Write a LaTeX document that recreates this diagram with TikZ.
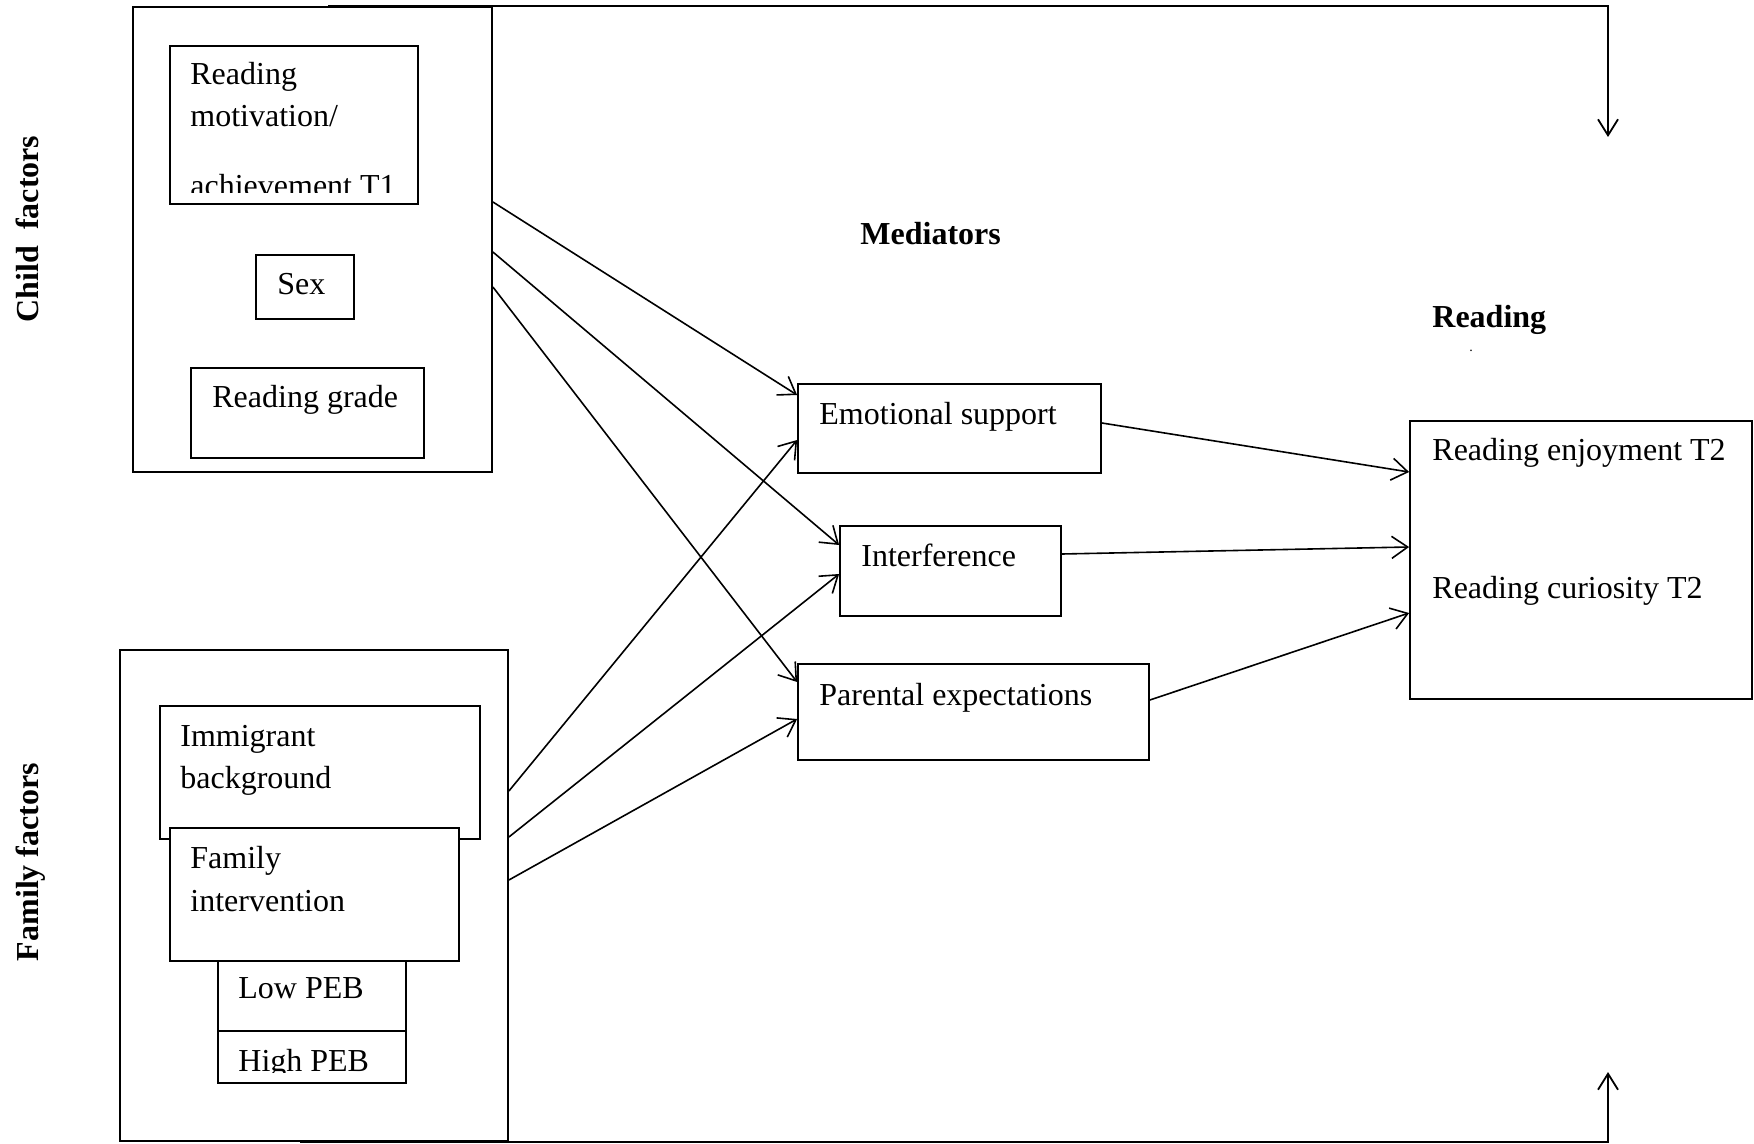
\documentclass[tikz,border=0pt]{standalone}
\usepackage{fontspec}
\setmainfont{Liberation Serif}
\usetikzlibrary{arrows.meta,fit}
\begin{document}
\begin{tikzpicture}[x=0.5pt,y=-0.5pt,
  box/.style={draw, line width=0.9pt, inner sep=0pt},
  lbl/.style={font=\fontsize{16}{19}\selectfont, inner sep=0pt, anchor=base west},
  hd/.style={font=\fontsize{16}{19}\selectfont\bfseries, inner sep=0pt},
  conn/.style={line width=0.8pt, -{Straight Barb[length=8pt,width=11pt,line width=0.8pt]}},
  loop/.style={line width=1.1pt, -{Straight Barb[length=8pt,width=10pt,line width=0.9pt]}}]
\useasboundingbox (0,0) rectangle (1754,1144);

% child factors
\node[box, fit={(133,7) (492,472)}] (child) {};
\node[box, fit={(170,46) (418,204)}] (motiv) {};
\node[box, fit={(256,255) (354,319)}] (sex) {};
\node[box, fit={(191,368) (424,458)}] (grade) {};

% family factors
\node[box, fit={(120,650) (508,1141)}] (family) {};
\node[box, fit={(160,706) (480,839)}] (immig) {};
\node[box, fill=white, fit={(170,828) (459,961)}] (interv) {};
\node[box, fit={(218,961) (406,1031)}] (low) {};
\node[box, fit={(218,1031) (406,1083)}] (high) {};

% mediators
\node[box, fit={(798,384) (1101,473)}] (emo) {};
\node[box, fit={(840,526) (1061,616)}] (intf) {};
\node[box, fit={(798,664) (1149,760)}] (par) {};

% outcome
\node[box, fit={(1410,421) (1752,699)}] (read) {};

% texts
\node[lbl] (t1) at (190,85) {Reading};
\node[lbl] (t2) at (190,127) {motivation/};
\begin{scope}
  \clip (170,46) rectangle (418,193);
  \node[lbl] (t3) at (190,197) {achievement T1};
\end{scope}
\node[lbl] (tsex) at (277,295) {Sex};
\node[lbl] (tgrade) at (212,407) {Reading grade};
\node[lbl] (timm1) at (180,746) {Immigrant};
\node[lbl] (timm2) at (180,788) {background};
\node[lbl] (tfam1) at (190,868) {Family};
\node[lbl] (tfam2) at (190,911) {intervention};
\node[lbl] (tlow) at (238,998) {Low PEB};
\begin{scope}
  \clip (218,1031) rectangle (406,1072);
  \node[lbl] (thigh) at (238,1071.5) {High PEB};
\end{scope}
\node[lbl] (temo) at (819,424) {Emotional support};
\node[lbl] (tintf) at (861,566) {Interference};
\node[lbl] (tpar) at (819,705) {Parental expectations};
\node[hd, anchor=base west] (tmed) at (860,245) {Mediators};
\node[hd, anchor=base west] (tread) at (1432,328) {Reading};
\node[inner sep=0pt, font=\fontsize{7}{8}\selectfont, anchor=base] (tdot) at (1471,351) {.};
\node[lbl] (tenj) at (1432,460) {Reading enjoyment T2};
\node[lbl] (tcur) at (1432,598) {Reading curiosity T2};
\node[hd, rotate=90, anchor=base] (tchild) at (39,229) {Child\ \ factors};
\node[hd, rotate=90, anchor=base] (tfamily) at (39,862) {Family factors};

% connectors
\draw[conn] (child.east |- 0,202) -- (emo.west |- 0,395);
\draw[conn] (child.east |- 0,252) -- (intf.west |- 0,545);
\draw[conn] (child.east |- 0,287) -- (par.west |- 0,682);
\draw[conn] (family.east |- 0,791) -- (emo.west |- 0,440);
\draw[conn] (family.east |- 0,837) -- (intf.west |- 0,574);
\draw[conn] (family.east |- 0,880) -- (par.west |- 0,719);
\draw[conn] (emo.east |- 0,423) -- (read.west |- 0,472);
\draw[conn] (intf.east |- 0,554) -- (read.west |- 0,547);
\draw[conn] (par.east |- 0,700) -- (read.west |- 0,613);

\coordinate (ttip) at (1608,137);
\coordinate (btip) at (1608,1072);
\draw[loop] (child.north -| 328,0) -| (ttip);
\draw[loop] (family.south -| 300,0) -| (btip);
\end{tikzpicture}
\end{document}
